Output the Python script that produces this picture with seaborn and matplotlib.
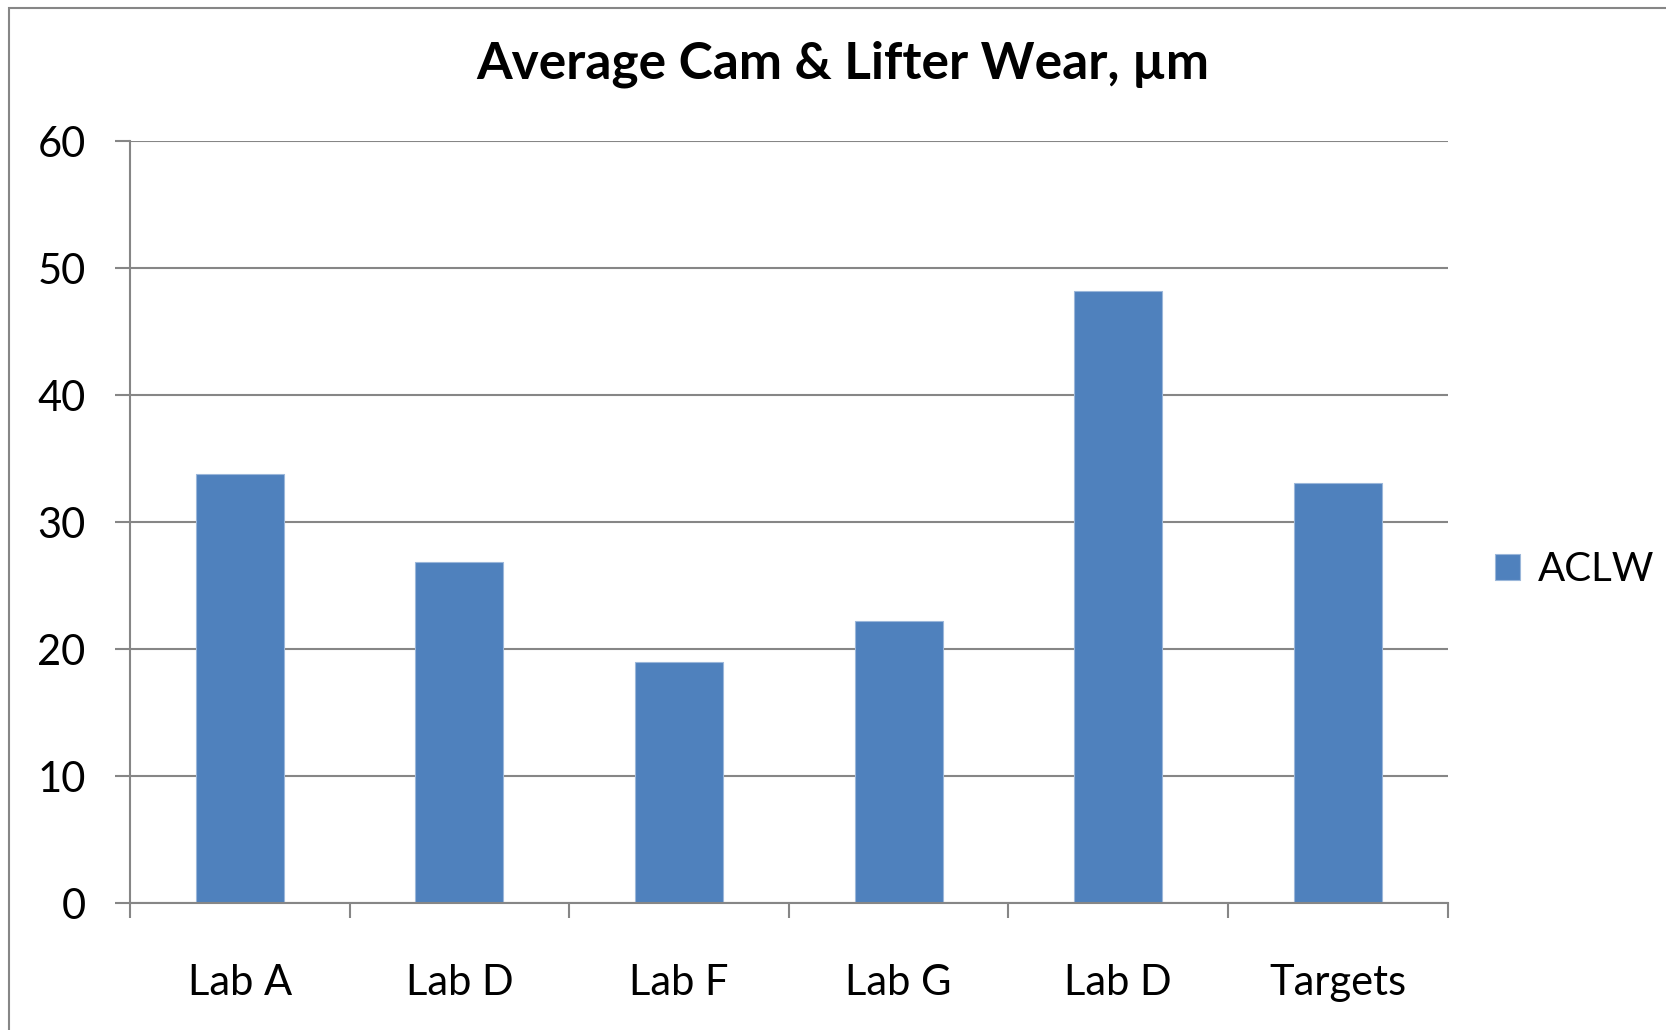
import numpy as np
import pandas as pd
import matplotlib
matplotlib.use("Agg")
import matplotlib.pyplot as plt
import seaborn as sns
from matplotlib.patches import Rectangle

# dados
labs = ["Lab A", "Lab D", "Lab F", "Lab G", "Lab D", "Targets"]
aclw = [33.8, 26.9, 19.0, 22.2, 48.2, 33.05]
titulo = "Average Cam & Lifter Wear, µm"
serie = "ACLW"

sns.set_theme(style="white")
plt.rcParams["font.family"] = ["Lato", "DejaVu Sans"]
plt.rcParams["text.color"] = "black"
plt.rcParams["xtick.color"] = "black"
plt.rcParams["ytick.color"] = "black"

cinza = "#868686"
azul = "#4F81BD"

df = pd.DataFrame({"pos": range(len(labs)), "valor": aclw, "serie": serie})

fig = plt.figure(figsize=(16.66, 10.30), dpi=100)
ax = fig.add_axes([0.078, 0.123, 0.791, 0.740])

sns.barplot(
    data=df,
    x="pos",
    y="valor",
    hue="serie",
    palette=[azul],
    width=0.4,
    saturation=1,
    edgecolor="#9BB7DA",
    linewidth=0.8,
    ax=ax,
)

ax.set_xlim(-0.5, len(labs) - 0.5)
ax.set_ylim(0, 60)
ax.set_yticks(np.arange(0, 61, 10))
ax.yaxis.grid(True, color=cinza, linewidth=1.5)
ax.set_axisbelow(True)

# ticks nas fronteiras, rótulos no centro
ax.set_xticks(np.arange(-0.5, len(labs), 1.0))
ax.set_xticklabels([])
ax.set_xticks(np.arange(len(labs)), minor=True)
ax.set_xticklabels(labs, minor=True)
ax.tick_params(axis="x", which="major", direction="out", length=11,
               width=1.5, color=cinza, bottom=True)
ax.tick_params(axis="x", which="minor", length=0, pad=44, labelsize=30,
               labelcolor="black")
ax.tick_params(axis="y", direction="out", length=11, width=1.5,
               color=cinza, left=True, pad=21, labelsize=30,
               labelcolor="black")

for lado in ["top", "right"]:
    ax.spines[lado].set_visible(False)
for lado in ["left", "bottom"]:
    ax.spines[lado].set_color(cinza)
    ax.spines[lado].set_linewidth(1.5)

ax.set_xlabel("")
ax.set_ylabel("")

leg = ax.legend(
    loc="center left",
    bbox_to_anchor=(1.008, 0.438),
    frameon=False,
    fontsize=29,
    handlelength=0.62,
    handleheight=0.62,
    handletextpad=0.45,
)

fig.text(0.506, 0.938, titulo, ha="center", va="center",
         fontsize=37, fontweight="bold", color="black")

# borda da área do gráfico
fig.patches.append(Rectangle((0.0055, -0.1), 1.2, 1.092, transform=fig.transFigure,
                             fill=False, edgecolor=cinza, linewidth=1.5))

fig.savefig("out.png", dpi=100)
